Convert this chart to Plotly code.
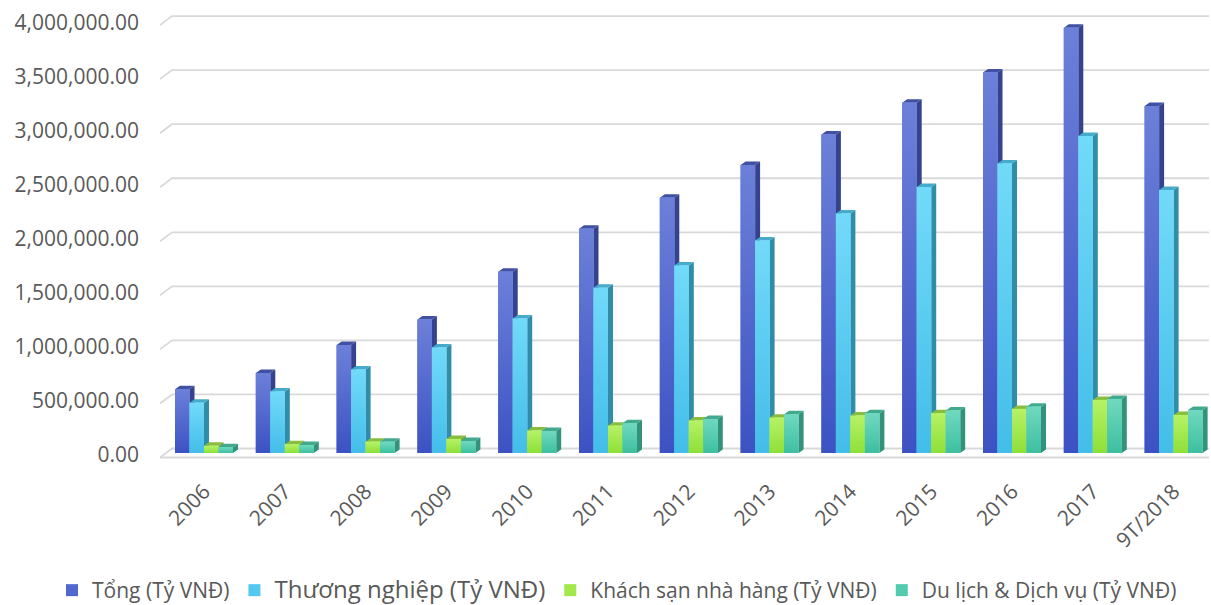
import plotly.graph_objects as go

# Doanh thu bán lẻ hàng hóa và dịch vụ (Tỷ VNĐ)
categories = ["2006", "2007", "2008", "2009", "2010", "2011", "2012",
              "2013", "2014", "2015", "2016", "2017", "9T/2018"]
tong = [590000, 740000, 1000000, 1235000, 1677000, 2075000, 2362000,
        2665000, 2947000, 3241000, 3520000, 3934000, 3210000]
thuong_nghiep = [465000, 570000, 772000, 975000, 1244000, 1528000, 1735000,
                 1966000, 2216000, 2460000, 2677000, 2932000, 2432000]
khach_san = [66000, 82000, 105000, 130000, 207000, 253000, 300000,
             327000, 346000, 368000, 408000, 491000, 352000]
du_lich = [54000, 74000, 105000, 111000, 204000, 275000, 315000,
           358000, 368000, 392000, 429000, 500000, 398000]

series_names = [
    "Tổng (Tỷ VNĐ)",
    '<span style="font-size:24px">Thương nghiệp (Tỷ VNĐ)</span>',
    "Khách sạn nhà hàng (Tỷ VNĐ)",
    "Du lịch &amp; Dịch vụ (Tỷ VNĐ)",
]
series_values = [tong, thuong_nghiep, khach_san, du_lich]

y_ticks = [0, 500000, 1000000, 1500000, 2000000, 2500000, 3000000, 3500000, 4000000]

front_colors = ["#5067CF", "#55C8F0", "#A2E84A", "#53CCAE"]
face_top_colors = ["#6C80D9", "#72DAF9", "#B6F266", "#70D9C0"]
face_bottom_colors = ["#3C52C3", "#43BDE9", "#8EDF38", "#3DBF9F"]
side_colors = ["#35438E", "#2F8DA8", "#6FA234", "#33937A"]
top_colors = ["#4050A2", "#46AACA", "#88BE3E", "#40A98E"]

FONT = "Open Sans, Liberation Sans, sans-serif"
TEXT = "#595959"
GRID = "#D9D9D9"

# page geometry, in pixels
W, H = 1211, 605
PLOT_L, PLOT_R, PLOT_T, PLOT_B = 160, 1209, 15, 460
ZERO_PX = 453          # floor line of the bars
PX_PER_VAL = 108.1e-6  # pixels per Tỷ VNĐ
FIRST_CAT_PX = 204
PX_PER_CAT = 80.8

x_range = [(PLOT_L - FIRST_CAT_PX) / PX_PER_CAT, (PLOT_R - FIRST_CAT_PX) / PX_PER_CAT]
y_range = [-(PLOT_B - ZERO_PX) / PX_PER_VAL, (ZERO_PX - PLOT_T) / PX_PER_VAL]

bar_w = 14.5 / PX_PER_CAT      # width of one column face
depth_dx = 5 / PX_PER_CAT      # 3-D extrusion of a column
depth_dy = 3.5 / PX_PER_VAL
wall_dx = 12 / PX_PER_CAT      # depth of the back wall / floor
wall_dy = 4.5 / PX_PER_VAL

fig = go.Figure()
n_series = len(series_values)

for k, (name, vals) in enumerate(zip(series_names, series_values)):
    centers = [i + (k - (n_series - 1) / 2) * bar_w for i in range(len(categories))]

    side_x, side_y, top_x, top_y = [], [], [], []
    for xc, v in zip(centers, vals):
        xl, xr = xc - bar_w / 2, xc + bar_w / 2
        side_x += [xr, xr, xr + depth_dx, xr + depth_dx, xr, None]
        side_y += [0, v, v + depth_dy, depth_dy, 0, None]
        top_x += [xl, xl + depth_dx, xr + depth_dx, xr, xl, None]
        top_y += [v, v + depth_dy, v + depth_dy, v, v, None]

    # right side and top of every column
    fig.add_trace(go.Scatter(
        x=side_x, y=side_y, mode="lines", fill="toself",
        fillcolor=side_colors[k], line=dict(width=0),
        hoverinfo="skip", showlegend=False, zorder=2 * k,
    ))
    fig.add_trace(go.Scatter(
        x=top_x, y=top_y, mode="lines", fill="toself",
        fillcolor=top_colors[k], line=dict(width=0),
        hoverinfo="skip", showlegend=False, zorder=2 * k,
    ))
    # front faces
    fig.add_trace(go.Bar(
        x=centers, y=vals, width=bar_w, name=name,
        marker=dict(color=front_colors[k], line=dict(width=0)),
        customdata=categories,
        hovertemplate="%{customdata}: %{y:,.2f}<extra></extra>",
        zorder=2 * k + 1,
    ))
    # vertical shading of each front face
    for xc, v in zip(centers, vals):
        xl, xr = xc - bar_w / 2, xc + bar_w / 2
        fig.add_trace(go.Scatter(
            x=[xl, xr, xr, xl, xl], y=[0, 0, v, v, 0],
            mode="lines", fill="toself", line=dict(width=0),
            fillgradient=dict(
                type="vertical", start=0, stop=v,
                colorscale=[[0, face_bottom_colors[k]], [1, face_top_colors[k]]],
            ),
            hoverinfo="skip", showlegend=False, zorder=2 * k + 1,
        ))

# back wall gridlines with the floor-depth diagonal on the left
shapes = []
for v in y_ticks:
    x0 = x_range[0]
    path = (f"M {x0},{v - wall_dy} L {x0 + wall_dx},{v + wall_dy} "
            f"L {x_range[1]},{v + wall_dy}")
    shapes.append(dict(type="path", path=path, xref="x", yref="y",
                       line=dict(color=GRID, width=1.8), layer="below"))
shapes.append(dict(type="line", xref="x", yref="y",
                   x0=x_range[0], x1=x_range[1], y0=-wall_dy, y1=-wall_dy,
                   line=dict(color=GRID, width=1.8), layer="below"))

fig.update_layout(
    width=W, height=H,
    margin=dict(l=PLOT_L, r=W - PLOT_R, t=PLOT_T, b=H - PLOT_B, autoexpand=False),
    paper_bgcolor="white", plot_bgcolor="white",
    barmode="overlay",
    font=dict(family=FONT, color=TEXT, size=21),
    shapes=shapes,
    showlegend=True,
    legend=dict(
        orientation="h",
        x=(52 - PLOT_L) / (PLOT_R - PLOT_L), xanchor="left",
        y=(PLOT_B - 570) / (PLOT_B - PLOT_T), yanchor="top",
        font=dict(family=FONT, color=TEXT, size=21),
        bgcolor="rgba(0,0,0,0)",
    ),
    xaxis=dict(
        range=x_range, showgrid=False, zeroline=False, showline=False,
        tickmode="array", tickvals=list(range(len(categories))), ticktext=categories,
        tickangle=-45, ticks="", ticklabelstandoff=14,
        tickfont=dict(family=FONT, color=TEXT, size=21),
    ),
    yaxis=dict(
        range=y_range, showgrid=False, zeroline=False, showline=False,
        tickmode="array", tickvals=y_ticks, tickformat=",.2f",
        ticks="", ticklabelstandoff=20, ticklabelshift=2,
        tickfont=dict(family=FONT, color=TEXT, size=21),
    ),
)

fig.write_html("out.html")
